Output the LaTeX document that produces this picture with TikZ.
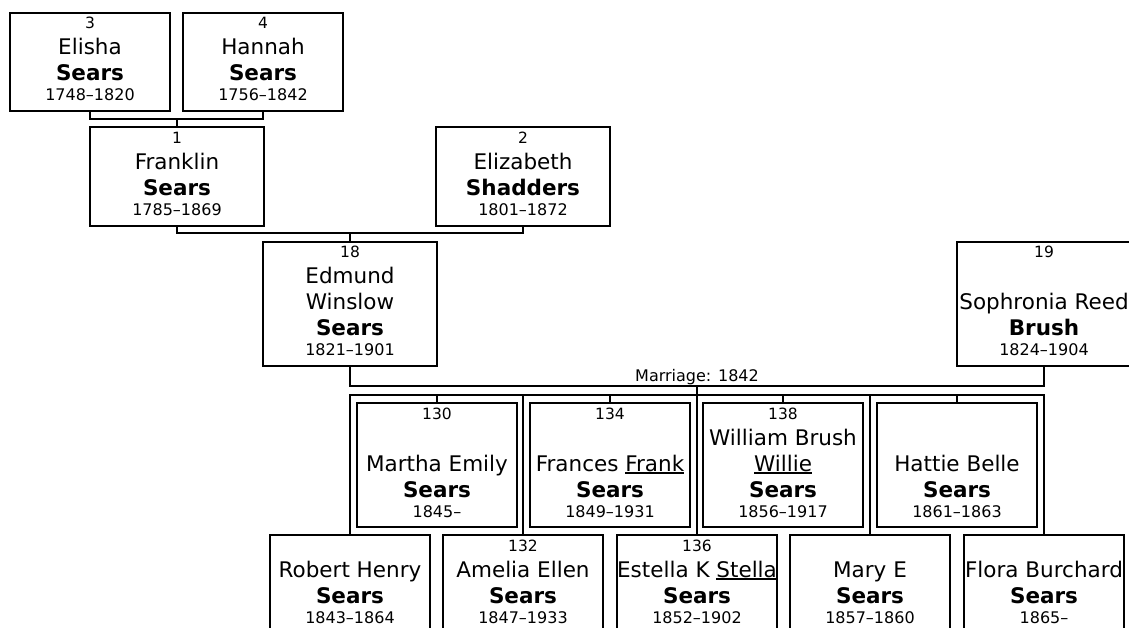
\documentclass[tikz,border=0pt]{standalone}
\usepackage{fontspec}
\setmainfont{DejaVu Sans}
\usepackage{tikz}
\setlength{\parindent}{0pt}
\newcommand\idfont{\fontsize{15.5}{17}\selectfont}
\newcommand\givenfont{\fontsize{21.5}{26}\selectfont}
\newcommand\yearfont{\fontsize{16}{20}\selectfont}
% underlined call name
\newcommand\nick[1]{\leavevmode\setbox0\hbox{#1}\rlap{\rule[-2.6pt]{\wd0}{1.6pt}}\box0}
% number / given names / surname / years
\newcommand\famcard[4]{%
	{\idfont\rule{0pt}{16pt}#1\par}%
	{\givenfont\leavevmode#2\par\textbf{#3}\par}%
	{\yearfont#4\rule[-10pt]{0pt}{10pt}\par}}
\tikzset{%
	person/.style = {draw, rectangle, line width=2.8pt, inner sep=0pt, text width=160pt, minimum height=98pt, align=flush center}, % Box
	wide/.style   = {text width=174pt},
	tall/.style   = {minimum height=124pt},
	link/.style   = {line width=2.8pt}, % Line
}
\begin{document}
\begin{tikzpicture}[x=1pt,y=-1pt]
		\useasboundingbox (0,0) rectangle (1129,628);
		\node [person] (p3) at (90,62) {\famcard{3}{Elisha}{Sears}{1748--1820}};
		\node [person] (p4) at (263,62) {\famcard{4}{Hannah}{Sears}{1756--1842}};
		\node [person,wide,minimum height=99pt] (p1) at (177,176.5) {\famcard{1}{Franklin}{Sears}{1785--1869}};
		\node [person,wide,minimum height=99pt] (p2) at (523,176.5) {\famcard{2}{Elizabeth}{Shadders}{1801--1872}};
		\node [person,wide,tall] (p18) at (350,304) {\famcard{18}{Edmund\par Winslow}{Sears}{1821--1901}};
		\node [person,wide,tall] (p19) at (1044,304) {\famcard{19}{\mbox{}\par Sophronia Reed}{Brush}{1824--1904}};
		
		\node [person,tall] (p130) at (437,465) {\famcard{130}{\mbox{}\par Martha Emily}{Sears}{1845--}};
		\node [person,tall] (p134) at (610,465) {\famcard{134}{\mbox{}\par Frances \nick{Frank}}{Sears}{1849--1931}};
		\node [person,tall] (p138) at (783,465) {\famcard{138}{William Brush\par\nick{Willie}}{Sears}{1856--1917}};
		\node [person,tall] (pHattie) at (957,465) {\famcard{}{\mbox{}\par Hattie Belle}{Sears}{1861--1863}};
		
		\node [person] (pRobert) at (350,584) {\famcard{}{Robert Henry}{Sears}{1843--1864}};
		\node [person] (p132) at (523,584) {\famcard{132}{Amelia Ellen}{Sears}{1847--1933}};
		\node [person] (p136) at (697,584) {\famcard{136}{Estella K \nick{Stella}}{Sears}{1852--1902}};
		\node [person] (pMary) at (870,584) {\famcard{}{Mary E}{Sears}{1857--1860}};
		\node [person] (pFlora) at (1044,584) {\famcard{}{Flora Burchard}{Sears}{1865--}};
		
		\coordinate (j34) at (177,119);
		\coordinate (j12) at (350,233);
		\coordinate (wed) at (697,386);
		\coordinate (bus) at (1044,395);
		
		\draw[link] (p3.south) |- (j34) -| (p4.south);
		\draw[link] (j34) -- (p1.north);
		\draw[link] (p1.south) |- (j12) -| (p2.south);
		\draw[link] (j12) -- (p18.north);
		\draw[link] (p18.south) |- (wed) -| (p19.south);
		\node [anchor=base,font=\yearfont] (wedlabel) at (697,381.5) {Marriage: 1842};
		
		\draw[link] (pRobert.north) |- (bus) -- (pFlora.north);
		\draw[link] (wed) -- (p136.north);
		\foreach \k in {p130,p134,p138,pHattie,p132,pMary}
			\draw[link] (\k.north) -- (\k.north |- bus);
\end{tikzpicture}
\end{document}
